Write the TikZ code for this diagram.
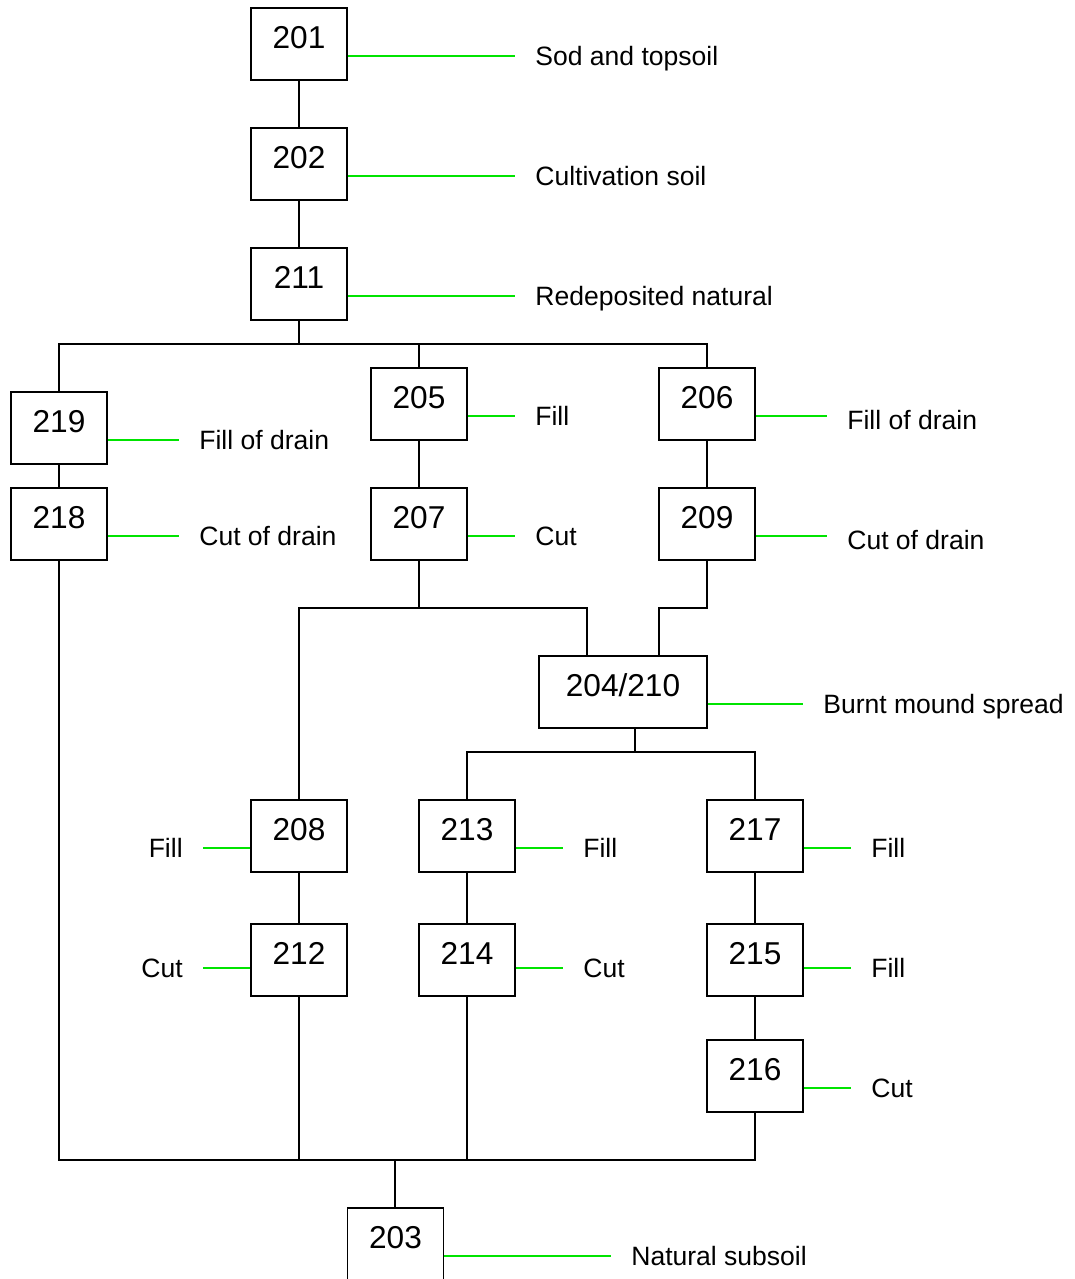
\documentclass[tikz,border=0pt]{standalone}
\usepackage{fontspec}
\setmainfont{Liberation Sans}
\definecolor{tagcol}{RGB}{0,228,0}
\tikzset{
  unit/.style={draw, line width=1.1pt, minimum width=1.92cm, minimum height=1.44cm,
    inner ysep=0.35cm, text height=0.46cm, text depth=0.28cm,
    font=\fontsize{18}{21}\selectfont},
  tag/.style={inner xsep=0.4cm, inner ysep=0pt, text height=0.38cm, text depth=0pt,
    font=\fontsize{15.1}{18}\selectfont},
  link/.style={line width=1.1pt},
  tagline/.style={line width=1.1pt, color=tagcol}
}
\begin{document}
\begin{tikzpicture}[x=0.02cm, y=-0.02cm]
    \useasboundingbox (0,0) rectangle (1075,1279);
    % units, centres in pixels
    \node[unit] (u201) at (299,44) {201};
    \node[unit] (u202) at (299,164) {202};
    \node[unit] (u211) at (299,284) {211};
    \node[unit] (u219) at (59,428) {219};
    \node[unit] (u205) at (419,404) {205};
    \node[unit] (u206) at (707,404) {206};
    \node[unit] (u218) at (59,524) {218};
    \node[unit] (u207) at (419,524) {207};
    \node[unit] (u209) at (707,524) {209};
    \node[unit, minimum width=3.36cm] (u204) at (623,692) {204/210\hspace{0.2cm}};
    \node[unit] (u208) at (299,836) {208};
    \node[unit] (u213) at (467,836) {213};
    \node[unit] (u217) at (755,836) {217};
    \node[unit] (u212) at (299,960) {212};
    \node[unit] (u214) at (467,960) {214};
    \node[unit] (u215) at (755,960) {215};
    \node[unit] (u216) at (755,1076) {216};
    \node[unit] (u203) at (395.5,1244) {203};
    % descriptions
    \node[tag, anchor=west] (t201) at (515,56) {Sod and topsoil};
    \node[tag, anchor=west] (t202) at (515,176) {Cultivation soil};
    \node[tag, anchor=west] (t211) at (515,296) {Redeposited natural};
    \node[tag, anchor=west] (t219) at (179,440) {Fill of drain};
    \node[tag, anchor=west] (t205) at (515,416) {Fill};
    \node[tag, anchor=west, text height=0.54cm] (t206) at (827,416) {Fill of drain};
    \node[tag, anchor=west] (t218) at (179,536) {Cut of drain};
    \node[tag, anchor=west] (t207) at (515,536) {Cut};
    \node[tag, anchor=west, text height=0.54cm] (t209) at (827,536) {Cut of drain};
    \node[tag, anchor=west] (t204) at (803,704) {Burnt mound spread};
    \node[tag, anchor=east] (t208) at (203,848) {Fill};
    \node[tag, anchor=west] (t213) at (563,848) {Fill};
    \node[tag, anchor=west] (t217) at (851,848) {Fill};
    \node[tag, anchor=east] (t212) at (203,968) {Cut};
    \node[tag, anchor=west] (t214) at (563,968) {Cut};
    \node[tag, anchor=west] (t215) at (851,968) {Fill};
    \node[tag, anchor=west] (t216) at (851,1088) {Cut};
    \node[tag, anchor=west] (t203) at (611,1256) {Natural subsoil};
    % green lines to the descriptions
    \foreach \u in {201,202,211,219,205,206,218,207,209,204,213,217,214,215,216,203}
      \draw[tagline] (u\u.east |- t\u.west) -- (t\u.west);
    \foreach \u in {208,212}
      \draw[tagline] (u\u.west |- t\u.east) -- (t\u.east);
    % junctions
    \coordinate (j211) at (299,344);
    \coordinate (j207) at (419,608);
    \coordinate (in1) at (587,608);
    \coordinate (in2) at (659,608);
    \coordinate (j204) at (635,752);
    \coordinate (j203) at (395,1160);
    % top sequence
    \draw[link] (u201) -- (u202);
    \draw[link] (u202) -- (u211);
    \draw[link] (u211) -- (j211);
    \draw[link] (u219) |- (j211) -| (u206);
    \draw[link] (u205) -- (u205 |- j211);
    \draw[link] (u219) -- (u218);
    \draw[link] (u205) -- (u207);
    \draw[link] (u206) -- (u209);
    % into 204/210
    \draw[link] (u207) -- (j207);
    \draw[link] (u208) |- (j207) -- (in1) -- (in1 |- u204.north);
    \draw[link] (u209) |- (in2) -- (in2 |- u204.north);
    % below 204/210
    \draw[link] (j204 |- u204.south) -- (j204);
    \draw[link] (u213) |- (j204) -| (u217);
    \draw[link] (u208) -- (u212);
    \draw[link] (u213) -- (u214);
    \draw[link] (u217) -- (u215);
    \draw[link] (u215) -- (u216);
    % down to 203
    \draw[link] (u218) |- (j203) -| (u216);
    \draw[link] (u212) -- (u212 |- j203);
    \draw[link] (u214) -- (u214 |- j203);
    \draw[link] (j203) -- (j203 |- u203.north);
\end{tikzpicture}
\end{document}
